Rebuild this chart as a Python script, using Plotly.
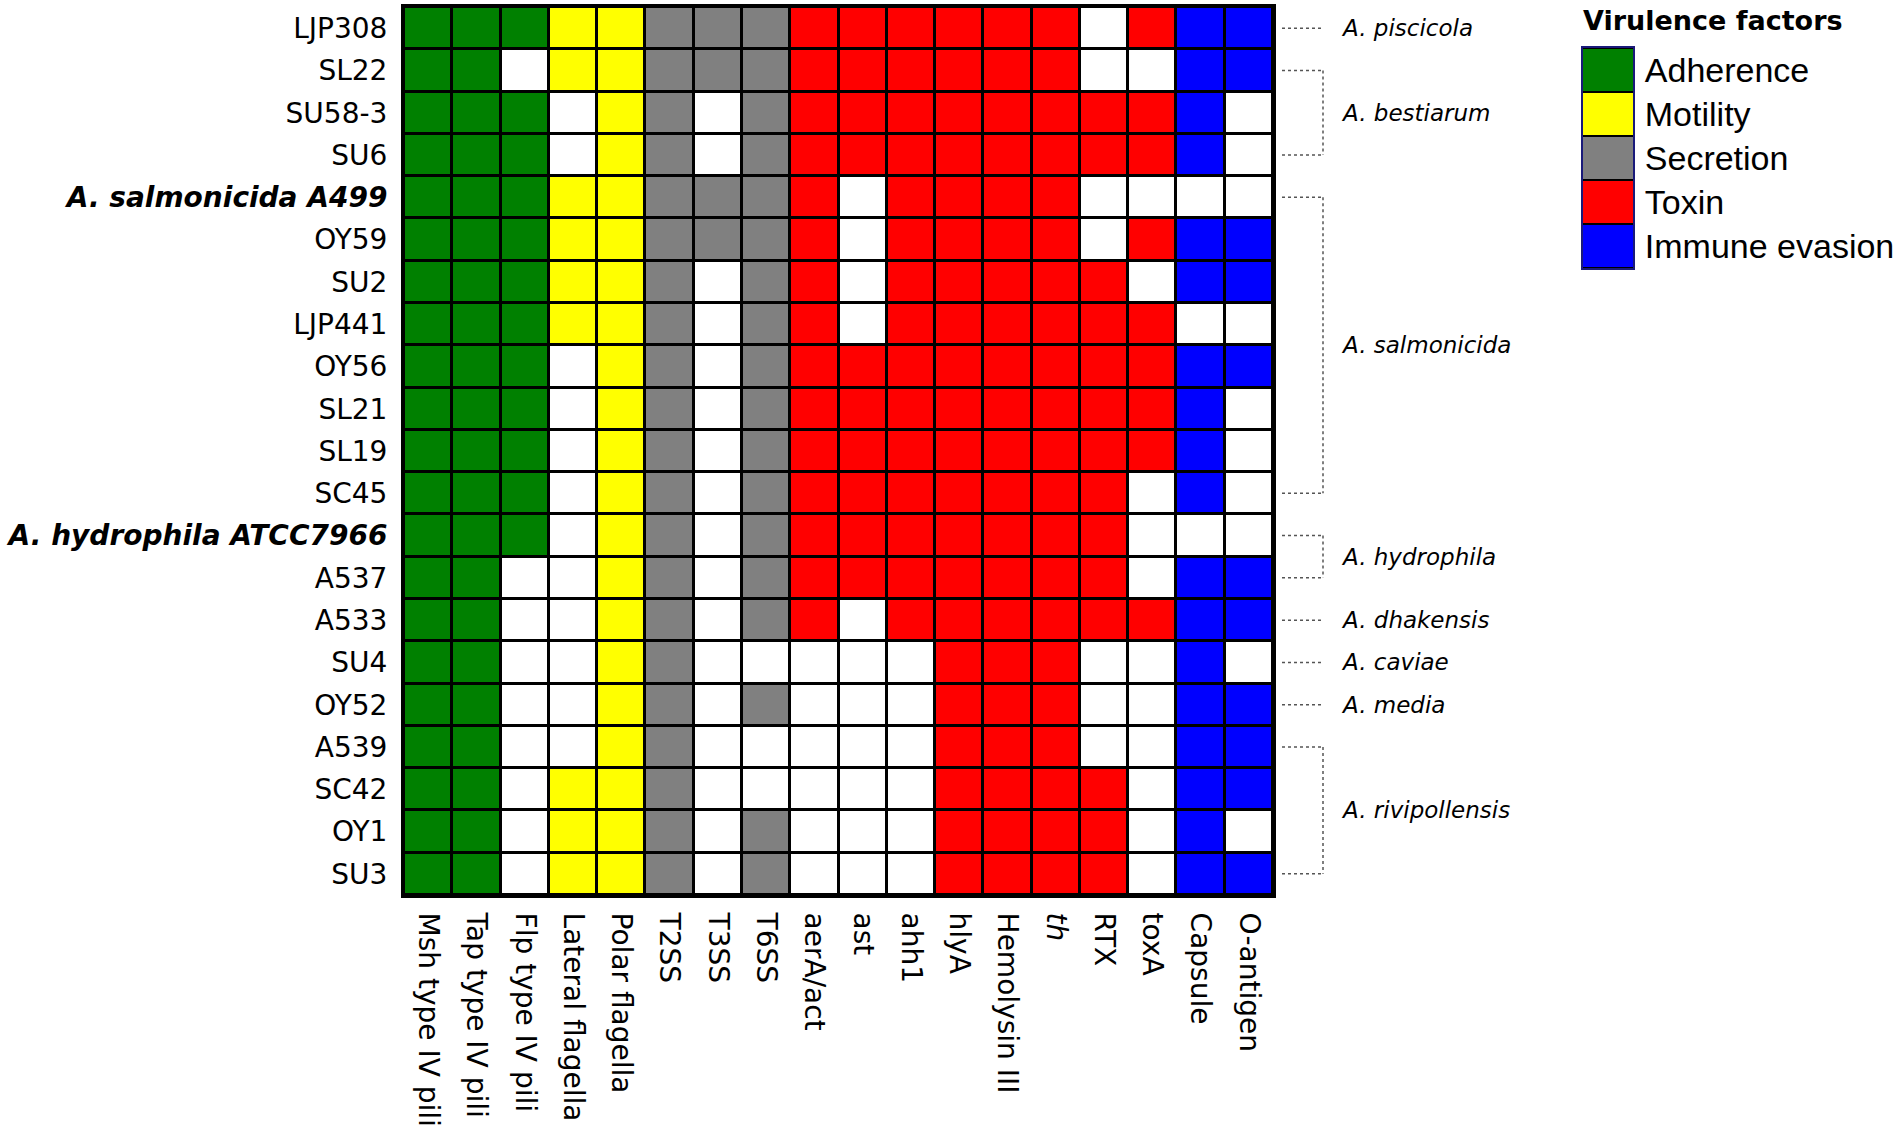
import plotly.graph_objects as go

# ---------------- data ----------------
strains = ["LJP308", "SL22", "SU58-3", "SU6", "<b><i>A. salmonicida A499</i></b>",
           "OY59", "SU2", "LJP441", "OY56", "SL21", "SL19", "SC45",
           "<b><i>A. hydrophila ATCC7966</i></b>", "A537", "A533", "SU4", "OY52",
           "A539", "SC42", "OY1", "SU3"]

factors = ["Msh type IV pili", "Tap type IV pili", "Flp type IV pili",
           "Lateral flagella", "Polar flagella", "T2SS", "T3SS", "T6SS",
           "aerA/act", "ast", "ahh1", "hlyA", "Hemolysin III", "<i>th</i>",
           "RTX", "toxA", "Capsule", "O-antigen"]

# category code of each factor (1 Adherence, 2 Motility, 3 Secretion, 4 Toxin, 5 Immune evasion)
factor_category = [1, 1, 1, 2, 2, 3, 3, 3, 4, 4, 4, 4, 4, 4, 4, 4, 5, 5]

categories = ["Adherence", "Motility", "Secretion", "Toxin", "Immune evasion"]
category_colors = ["#008000", "#ffff00", "#808080", "#ff0000", "#0000ff"]

# presence (1) / absence (0) of each factor per strain
presence = [
    [1,1,1, 1,1, 1,1,1, 1,1,1,1,1,1,0,1, 1,1],  # LJP308
    [1,1,0, 1,1, 1,1,1, 1,1,1,1,1,1,0,0, 1,1],  # SL22
    [1,1,1, 0,1, 1,0,1, 1,1,1,1,1,1,1,1, 1,0],  # SU58-3
    [1,1,1, 0,1, 1,0,1, 1,1,1,1,1,1,1,1, 1,0],  # SU6
    [1,1,1, 1,1, 1,1,1, 1,0,1,1,1,1,0,0, 0,0],  # A499
    [1,1,1, 1,1, 1,1,1, 1,0,1,1,1,1,0,1, 1,1],  # OY59
    [1,1,1, 1,1, 1,0,1, 1,0,1,1,1,1,1,0, 1,1],  # SU2
    [1,1,1, 1,1, 1,0,1, 1,0,1,1,1,1,1,1, 0,0],  # LJP441
    [1,1,1, 0,1, 1,0,1, 1,1,1,1,1,1,1,1, 1,1],  # OY56
    [1,1,1, 0,1, 1,0,1, 1,1,1,1,1,1,1,1, 1,0],  # SL21
    [1,1,1, 0,1, 1,0,1, 1,1,1,1,1,1,1,1, 1,0],  # SL19
    [1,1,1, 0,1, 1,0,1, 1,1,1,1,1,1,1,0, 1,0],  # SC45
    [1,1,1, 0,1, 1,0,1, 1,1,1,1,1,1,1,0, 0,0],  # ATCC7966
    [1,1,0, 0,1, 1,0,1, 1,1,1,1,1,1,1,0, 1,1],  # A537
    [1,1,0, 0,1, 1,0,1, 1,0,1,1,1,1,1,1, 1,1],  # A533
    [1,1,0, 0,1, 1,0,0, 0,0,0,1,1,1,0,0, 1,0],  # SU4
    [1,1,0, 0,1, 1,0,1, 0,0,0,1,1,1,0,0, 1,1],  # OY52
    [1,1,0, 0,1, 1,0,0, 0,0,0,1,1,1,0,0, 1,1],  # A539
    [1,1,0, 1,1, 1,0,0, 0,0,0,1,1,1,1,0, 1,1],  # SC42
    [1,1,0, 1,1, 1,0,1, 0,0,0,1,1,1,1,0, 1,0],  # OY1
    [1,1,0, 1,1, 1,0,1, 0,0,0,1,1,1,1,0, 1,1],  # SU3
]

# species groups: (label, first strain index, last strain index)
species_groups = [
    ("A. piscicola", 0, 0),
    ("A. bestiarum", 1, 3),
    ("A. salmonicida", 4, 11),
    ("A. hydrophila", 12, 13),
    ("A. dhakensis", 14, 14),
    ("A. caviae", 15, 15),
    ("A. media", 16, 16),
    ("A. rivipollensis", 17, 20),
]

# ---------------- figure ----------------
W, H = 1902, 1134
z = [[p * c for p, c in zip(row, factor_category)] for row in presence]

colors_all = ["#ffffff"] + category_colors
n = len(colors_all)
colorscale = []
for i, col in enumerate(colors_all):
    colorscale.append([i / n, col])
    colorscale.append([(i + 1) / n, col])

fig = go.Figure()
fig.add_trace(go.Heatmap(
    z=z, x=list(range(len(factors))), y=list(range(len(strains))),
    colorscale=colorscale, zmin=-0.5, zmax=n - 0.5, showscale=False,
    xgap=3, ygap=3, hoverinfo="skip", xaxis="x", yaxis="y"))

# legend as a small heatmap
fig.add_trace(go.Heatmap(
    z=[[i + 1] for i in range(len(categories))], x=[0], y=list(range(len(categories))),
    colorscale=colorscale, zmin=-0.5, zmax=n - 0.5, showscale=False,
    ygap=2, hoverinfo="skip", xaxis="x2", yaxis="y2"))

tick_font = dict(family="DejaVu Sans", size=28, color="black")

fig.update_layout(
    width=W, height=H, margin=dict(l=0, r=0, t=0, b=0),
    paper_bgcolor="white", plot_bgcolor="black", showlegend=False,
    xaxis=dict(domain=[404 / W, 1273 / W], anchor="y", range=[-0.5, len(factors) - 0.5],
               tickmode="array", tickvals=list(range(len(factors))), ticktext=factors,
               tickangle=90, tickfont=tick_font, ticks="", showgrid=False, zeroline=False,
               showline=True, mirror=True, linecolor="black", linewidth=3,
               ticklabelstandoff=9, automargin=False, fixedrange=True),
    yaxis=dict(domain=[1 - 895 / H, 1 - 7 / H], anchor="x", range=[len(strains) - 0.5, -0.5],
               tickmode="array", tickvals=list(range(len(strains))), ticktext=strains,
               tickfont=tick_font, ticks="", showgrid=False, zeroline=False,
               showline=True, mirror=True, linecolor="black", linewidth=3,
               ticklabelstandoff=8, automargin=False, fixedrange=True),
    xaxis2=dict(domain=[1583 / W, 1633 / W], anchor="y2", range=[-0.5, 0.5],
                showticklabels=False, ticks="", showgrid=False, zeroline=False,
                showline=True, mirror=True, linecolor="#1a1a7a", linewidth=2,
                automargin=False, fixedrange=True),
    yaxis2=dict(domain=[1 - 268 / H, 1 - 48 / H], anchor="x2",
                range=[len(categories) - 0.5, -0.5], side="right",
                tickmode="array", tickvals=list(range(len(categories))), ticktext=categories,
                tickfont=dict(family="Liberation Sans", size=34, color="black"),
                ticks="", showgrid=False, zeroline=False,
                showline=True, mirror=True, linecolor="#1a1a7a", linewidth=2,
                ticklabelstandoff=3, automargin=False, fixedrange=True),
)

# legend title
fig.add_annotation(text="<b>Virulence factors</b>", xref="paper", yref="paper",
                   x=1581 / W, y=1 - 21 / H, xanchor="left", yanchor="middle",
                   showarrow=False, font=dict(family="DejaVu Sans", size=27, color="black"))

# species brackets
bx0, bx1 = 1282 / W, 1323 / W
line_style = dict(color="#555555", width=1.5, dash="dot")
for label, first, last in species_groups:
    fig.add_shape(type="line", xref="paper", yref="y", x0=bx0, x1=bx1, y0=first, y1=first,
                  line=line_style)
    if last != first:
        fig.add_shape(type="line", xref="paper", yref="y", x0=bx0, x1=bx1, y0=last, y1=last,
                      line=line_style)
        fig.add_shape(type="line", xref="paper", yref="y", x0=bx1, x1=bx1, y0=first, y1=last,
                      line=line_style)
    fig.add_annotation(text="<i>" + label + "</i>", xref="paper", yref="y",
                       x=1339 / W, y=(first + last) / 2, xanchor="left", yanchor="middle",
                       showarrow=False, font=dict(family="DejaVu Sans", size=23, color="black"))

fig.write_html("out.html", config={"displayModeBar": False},
               post_script="document.body.style.margin='0';document.body.style.overflow='hidden';")
